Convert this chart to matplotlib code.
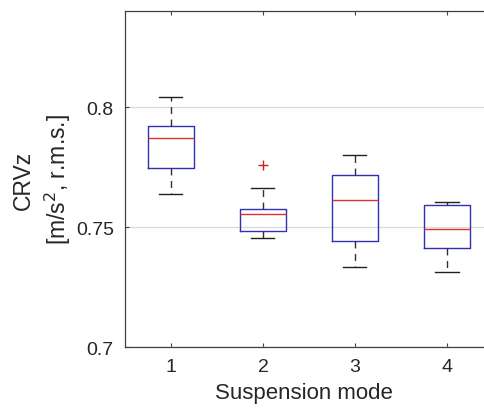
import matplotlib
matplotlib.use("Agg")
import matplotlib.pyplot as plt

plt.rcParams['font.family'] = ['Liberation Sans', 'DejaVu Sans']

modes = [1, 2, 3, 4]
whisker_low = [0.7636, 0.7455, 0.7332, 0.7311]
q1 = [0.7747, 0.7483, 0.7442, 0.7411]
medians = [0.7872, 0.7554, 0.7611, 0.7492]
q3 = [0.7920, 0.7576, 0.7715, 0.7593]
whisker_high = [0.8040, 0.7664, 0.7801, 0.7603]
outliers = [[], [0.7758], [], []]

stats = []
for i in range(len(modes)):
    stats.append({
        "whislo": whisker_low[i], "q1": q1[i], "med": medians[i],
        "q3": q3[i], "whishi": whisker_high[i], "fliers": outliers[i],
    })

fig = plt.figure(figsize=(4.85, 4.10), dpi=100)
# axes runs a little past the right edge, as in the cropped original
ax = fig.add_axes([0.2577, 0.1512, 0.7588, 0.8195])

ax.bxp(stats, positions=modes, widths=0.5, capwidths=0.25,
       boxprops=dict(color="#3030b0", linewidth=1.0),
       medianprops=dict(color="#e03030", linewidth=1.0),
       whiskerprops=dict(color="#303030", linewidth=1.0, linestyle=(0, (5, 4))),
       capprops=dict(color="#202020", linewidth=1.0),
       flierprops=dict(marker="+", markeredgecolor="#d02020", markersize=7, linestyle="none"))

ax.set_xlim(0.5, 4.5)
ax.set_ylim(0.7, 0.84)
ax.set_xticks(modes)
ax.set_xticklabels([str(m) for m in modes])
ax.set_yticks([0.7, 0.75, 0.8])
ax.set_yticklabels(["0.7", "0.75", "0.8"])
ax.yaxis.grid(True, color="#dcdcdc", linewidth=1.0)
ax.set_axisbelow(True)

ax.tick_params(direction="in", top=True, right=True, length=3, width=0.8,
               colors="#404040", labelsize=14, labelcolor="#262626", pad=8)
for s in ax.spines.values():
    s.set_color("#404040")
    s.set_linewidth(0.9)

ax.set_xlabel("Suspension mode", fontsize=16, color="#262626")
ax.xaxis.set_label_coords(0.486, -0.105)
ax.set_ylabel("CRVz\n[m/s$^2$, r.m.s.]", fontsize=16.5, color="#262626", linespacing=1.35)
ax.yaxis.set_label_coords(-0.142, 0.5)

fig.savefig("out.png", dpi=100)
